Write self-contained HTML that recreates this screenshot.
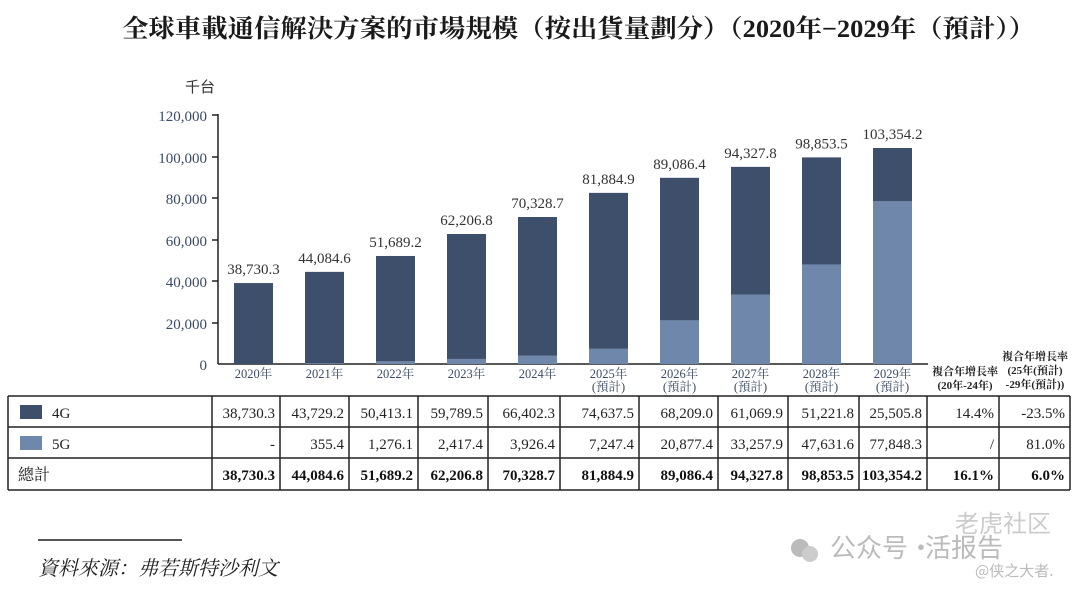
<!DOCTYPE html>
<html><head><meta charset="utf-8"><style>
body{margin:0;background:#fff;}
svg text{font-family:"Liberation Serif","Noto Serif CJK SC",serif;}
</style></head><body>
<svg width="1080" height="584" viewBox="0 0 1080 584" xmlns="http://www.w3.org/2000/svg">
<rect width="1080" height="584" fill="#fff"/>
<text x="122" y="37" font-size="25" font-weight="bold" fill="#1a1a1a" textLength="913" lengthAdjust="spacingAndGlyphs">全球車載通信解決方案的市場規模（按出貨量劃分）（2020年−2029年（預計））</text>
<text x="215" y="92" text-anchor="end" font-size="15" fill="#333" style="font-family:'Noto Sans CJK SC',sans-serif">千台</text>
<g font-size="15" fill="#3a4a66" text-anchor="end">
<text x="207" y="121">120,000</text><text x="207" y="163">100,000</text><text x="207" y="204">80,000</text>
<text x="207" y="246">60,000</text><text x="207" y="287">40,000</text><text x="207" y="329">20,000</text><text x="207" y="370">0</text>
</g>
<g stroke="#222" stroke-width="1.5">
<line x1="218" y1="114" x2="218" y2="364"/><line x1="218" y1="364" x2="928" y2="364"/>
<line x1="212" y1="115" x2="218" y2="115"/><line x1="212" y1="157" x2="218" y2="157"/><line x1="212" y1="198" x2="218" y2="198"/>
<line x1="212" y1="240" x2="218" y2="240"/><line x1="212" y1="281" x2="218" y2="281"/><line x1="212" y1="323" x2="218" y2="323"/>
</g>
<g id="bars"></g>
<g font-size="15" fill="#333" text-anchor="middle" id="labels"></g>
<g font-size="12.5" fill="#3a4a66" text-anchor="middle" id="xl"></g>
<text x="965" y="375" text-anchor="middle" font-size="11" font-weight="bold" fill="#222">複合年增長率</text>
<text x="965" y="389" text-anchor="middle" font-size="11" font-weight="bold" fill="#222">(20年-24年)</text>
<text x="1035" y="360" text-anchor="middle" font-size="11" font-weight="bold" fill="#222">複合年增長率</text>
<text x="1035" y="374" text-anchor="middle" font-size="11" font-weight="bold" fill="#222">(25年(預計)</text>
<text x="1035" y="388" text-anchor="middle" font-size="11" font-weight="bold" fill="#222">-29年(預計))</text>
<g id="tbl"></g>
<line x1="38" y1="540" x2="182" y2="540" stroke="#555" stroke-width="2"/>
<text x="38" y="575" font-size="20" font-style="italic" fill="#222">資料來源：弗若斯特沙利文</text>
<text x="830" y="557" font-size="26" fill="#bbb" style="font-family:'Noto Sans CJK SC',sans-serif">公众号·</text>
<circle cx="800" cy="548" r="9" fill="#bbb"/><circle cx="810" cy="554" r="8" fill="#ccc"/>
<text x="955" y="532" font-size="24" fill="#ccc" style="font-family:'Noto Sans CJK SC',sans-serif">老虎社区</text>
<text x="925" y="557" font-size="26" fill="#bbb" style="font-family:'Noto Sans CJK SC',sans-serif">活报告</text>
<text x="975" y="576" font-size="15" fill="#bbb" style="font-family:'Noto Sans CJK SC',sans-serif">@侠之大者.</text>
</svg>
<script>
const ns="http://www.w3.org/2000/svg";
function el(p,t,a,txt){const e=document.createElementNS(ns,t);for(const k in a)e.setAttribute(k,a[k]);if(txt!==undefined)e.textContent=txt;document.getElementById(p).appendChild(e);return e;}
const g4=[38730.3,43729.2,50413.1,59789.5,66402.3,74637.5,68209.0,61069.9,51221.8,25505.8];
const g5=[0,355.4,1276.1,2417.4,3926.4,7247.4,20877.4,33257.9,47631.6,77848.3];
const tot=["38,730.3","44,084.6","51,689.2","62,206.8","70,328.7","81,884.9","89,086.4","94,327.8","98,853.5","103,354.2"];
const s=0.00209;
for(let i=0;i<10;i++){const x=234+71*i;const h5=g5[i]*s,h4=g4[i]*s;
el("bars","rect",{x:x,y:364-h5,width:39,height:h5,fill:"#6e87ab"});
el("bars","rect",{x:x,y:364-h5-h4,width:39,height:h4,fill:"#3e4f6b"});
el("labels","text",{x:x+19.5,y:364-h5-h4-9},tot[i]);
el("xl","text",{x:x+19.5,y:378},(2020+i)+"年");
if(i>=5)el("xl","text",{x:x+19.5,y:391},"(預計)");}
const cols=[8,212,280,349,418,488,560,639,718,788,859,927,999,1070];
const rows=[396,427,458,490];
for(const y of rows)el("tbl","line",{x1:8,y1:y,x2:1070,y2:y,stroke:"#222","stroke-width":1.5});
for(const x of cols)el("tbl","line",{x1:x,y1:396,x2:x,y2:490,stroke:"#222","stroke-width":1.5});
el("tbl","rect",{x:20,y:405,width:22,height:14,fill:"#3e4f6b"});
el("tbl","rect",{x:20,y:436,width:22,height:14,fill:"#6e87ab"});
el("tbl","text",{x:52,y:418,"font-size":15,fill:"#222"},"4G");
el("tbl","text",{x:52,y:449,"font-size":15,fill:"#222"},"5G");
el("tbl","text",{x:18,y:480,"font-size":16,fill:"#222"},"總計");
const r1=["38,730.3","43,729.2","50,413.1","59,789.5","66,402.3","74,637.5","68,209.0","61,069.9","51,221.8","25,505.8","14.4%","-23.5%"];
const r2=["-","355.4","1,276.1","2,417.4","3,926.4","7,247.4","20,877.4","33,257.9","47,631.6","77,848.3","/","81.0%"];
const r3=tot.concat(["16.1%","6.0%"]);
for(let j=0;j<12;j++){const x=cols[j+2]-5;
el("tbl","text",{x:x,y:418,"font-size":15,fill:"#222","text-anchor":"end"},r1[j]);
el("tbl","text",{x:x,y:449,"font-size":15,fill:"#222","text-anchor":"end"},r2[j]);
el("tbl","text",{x:x,y:480,"font-size":15,fill:"#111","font-weight":"bold","text-anchor":"end"},r3[j]);}
</script>
</body></html>
